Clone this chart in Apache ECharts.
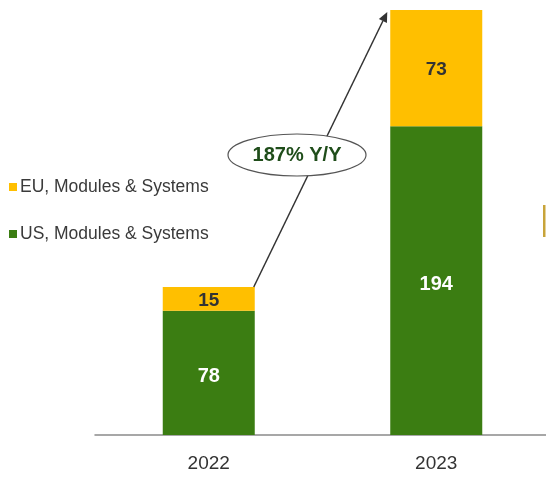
<!DOCTYPE html>
<html>
<head>
<meta charset="utf-8">
<script src="https://cdn.jsdelivr.net/npm/echarts@6/dist/echarts.min.js"></script>
<style>
  html, body { margin: 0; padding: 0; background: #fff; }
  #chart { width: 546px; height: 478px; }
</style>
</head>
<body>
<div id="chart"></div>
<script>
var years = ['2022', '2023'];
var usValues = [78, 194];
var euValues = [15, 73];
var growthLabel = '187% Y/Y';

var font = 'Liberation Sans, Arial, sans-serif';
var chart = echarts.init(document.getElementById('chart'));

chart.setOption({
  animation: false,
  textStyle: { fontFamily: font },
  legend: {
    orient: 'vertical',
    left: 4,
    top: 173,
    itemGap: 29,
    itemWidth: 8,
    itemHeight: 8,
    icon: 'rect',
    data: ['EU, Modules & Systems', 'US, Modules & Systems'],
    textStyle: { fontSize: 17.5, color: '#3a3a3a', fontFamily: font, padding: [0, 0, 0, -2] }
  },
  grid: { left: 95, width: 455, top: 10, bottom: 43, outerBoundsMode: 'none', containLabel: false },
  xAxis: {
    type: 'category',
    data: years,
    axisLine: { lineStyle: { color: '#8a8a8a', width: 1.5 } },
    axisTick: { show: false },
    axisLabel: { fontSize: 19, color: '#333', margin: 19 }
  },
  yAxis: {
    type: 'value',
    min: 0,
    max: 267,
    show: false
  },
  series: [
    {
      name: 'US, Modules & Systems',
      type: 'bar',
      stack: 'total',
      barWidth: 92,
      data: usValues,
      itemStyle: { color: '#3b7d12' },
      label: { show: true, position: 'inside', offset: [0, 4], color: '#fff', fontSize: 20, fontWeight: 'bold' }
    },
    {
      name: 'EU, Modules & Systems',
      type: 'bar',
      stack: 'total',
      data: euValues,
      itemStyle: { color: '#ffbf00' },
      label: { show: true, position: 'inside', offset: [0, 2], color: '#333', fontSize: 19, fontWeight: 'bold' }
    }
  ]
});

// arrow from top of 2022 bar to top of 2023 bar
var total0 = usValues[0] + euValues[0];
var total1 = usValues[1] + euValues[1];
var p0 = chart.convertToPixel({ gridIndex: 0 }, [0, total0]);
var p1 = chart.convertToPixel({ gridIndex: 0 }, [1, total1]);
var x0 = p0[0] + 45, y0 = p0[1];
var x1 = p1[0] - 49, y1 = p1[1] + 2;
var ang = Math.atan2(y1 - y0, x1 - x0);
var ah = 10, aw = 4.5;
var bx = x1 - ah * Math.cos(ang), by = y1 - ah * Math.sin(ang);
var nx = -Math.sin(ang), ny = Math.cos(ang);

chart.setOption({
  graphic: [
    {
      type: 'line',
      shape: { x1: x0, y1: y0, x2: bx, y2: by },
      style: { stroke: '#333', lineWidth: 1.5 },
      z: 10
    },
    {
      type: 'polygon',
      shape: { points: [[x1, y1], [bx + nx * aw, by + ny * aw], [bx - nx * aw, by - ny * aw]] },
      style: { fill: '#333' },
      z: 10
    },
    {
      type: 'ellipse',
      shape: { cx: 297, cy: 155, rx: 69, ry: 21 },
      style: { fill: '#fff', stroke: '#555', lineWidth: 1.2 },
      z: 11
    },
    {
      type: 'text',
      x: 297,
      y: 155,
      style: {
        text: growthLabel,
        fill: '#1f4d1a',
        font: 'bold 20px ' + font,
        align: 'center',
        verticalAlign: 'middle'
      },
      z: 12
    },
    {
      type: 'rect',
      shape: { x: 543, y: 205, width: 2.5, height: 32 },
      style: { fill: '#c8a43a' },
      z: 5
    }
  ]
});
</script>
</body>
</html>
